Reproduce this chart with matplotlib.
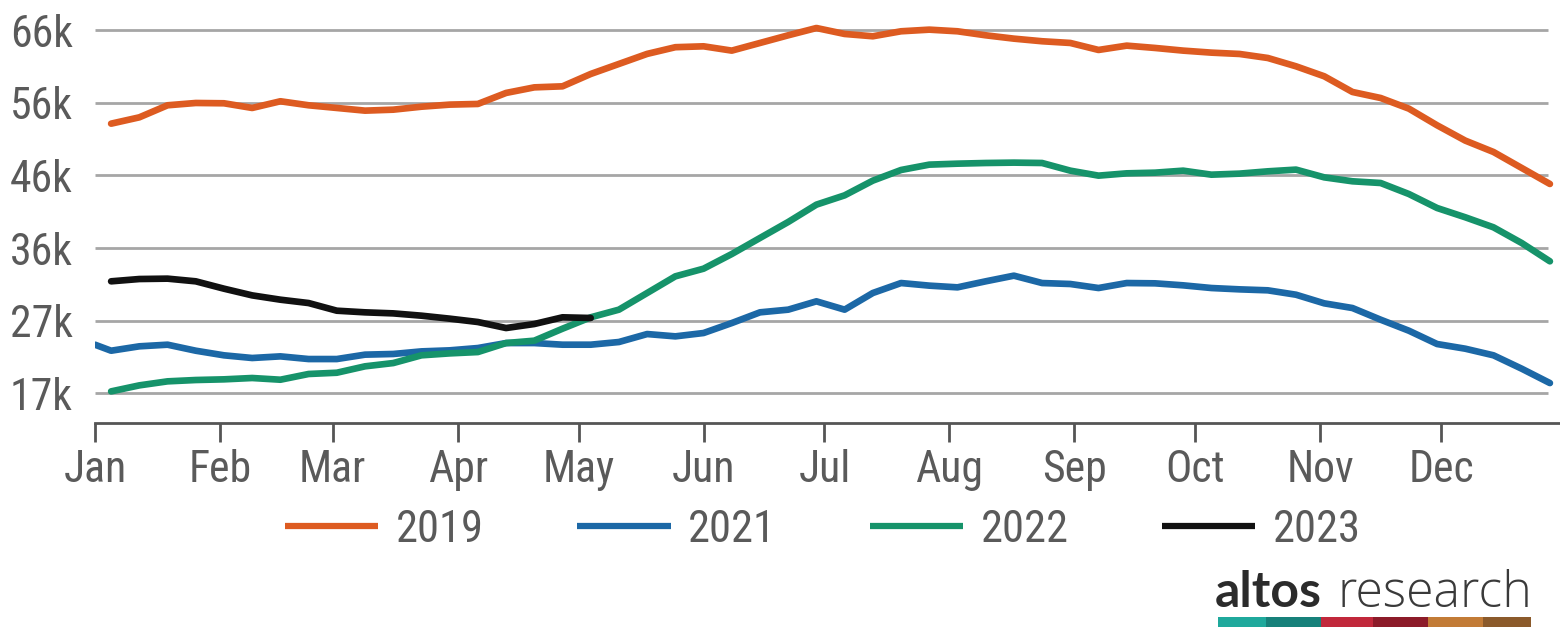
import numpy as np
import matplotlib.pyplot as plt
from matplotlib import font_manager
from matplotlib.patches import Rectangle

# pick a narrow face if one is installed
names = {f.name for f in font_manager.fontManager.ttflist}
narrow = [n for n in ['Roboto Condensed', 'Liberation Sans Narrow', 'DejaVu Sans Condensed',
                      'Open Sans Condensed', 'Noto Sans Condensed'] if n in names]
plt.rcParams['font.family'] = narrow + ['DejaVu Sans']
plt.rcParams['font.stretch'] = 'condensed'

# weekly inventory, thousands of homes (day of year for each weekly reading)
weeks = np.arange(4, 362, 7)

inv_2019 = [53.12, 53.97, 55.59, 55.90, 55.86, 55.23, 56.13, 55.59, 55.23, 54.87,
            55.00, 55.40, 55.68, 55.77, 57.25, 58.00, 58.14, 59.80, 61.15, 62.50,
            63.40, 63.52, 62.94, 63.97, 65.00, 65.98, 65.18, 64.87, 65.54, 65.76,
            65.54, 65.00, 64.55, 64.20, 63.97, 63.03, 63.61, 63.30, 62.94, 62.67,
            62.49, 61.95, 60.83, 59.49, 57.38, 56.57, 55.14, 52.90, 50.84, 49.31,
            47.16, 45.01]

inv_2021_start = 23.40  # reading on Jan 1
inv_2021 = [22.59, 23.18, 23.40, 22.59, 21.97, 21.61, 21.83, 21.47, 21.47, 22.06,
            22.15, 22.50, 22.64, 22.95, 23.62, 23.62, 23.40, 23.40, 23.76, 24.83,
            24.52, 24.97, 26.31, 27.75, 28.11, 29.23, 28.11, 30.35, 31.69, 31.34,
            31.11, 31.92, 32.68, 31.69, 31.56, 31.02, 31.69, 31.65, 31.38, 31.02,
            30.84, 30.71, 30.12, 28.96, 28.33, 26.76, 25.28, 23.49, 22.86, 21.97,
            20.17, 18.24]

inv_2022 = [17.12, 17.93, 18.47, 18.65, 18.74, 18.92, 18.69, 19.46, 19.63, 20.49,
            20.93, 21.97, 22.23, 22.41, 23.62, 23.94, 25.55, 27.08, 28.11, 30.35,
            32.59, 33.62, 35.59, 37.75, 39.90, 42.23, 43.48, 45.46, 46.89, 47.61,
            47.74, 47.83, 47.88, 47.83, 46.80, 46.13, 46.44, 46.53, 46.80, 46.26,
            46.40, 46.71, 46.94, 45.90, 45.37, 45.14, 43.66, 41.78, 40.53, 39.18,
            37.07, 34.61]

inv_2023 = [31.92, 32.23, 32.28, 31.92, 30.93, 30.03, 29.45, 29.00, 27.97, 27.75,
            27.61, 27.30, 26.90, 26.45, 25.64, 26.18, 27.08, 26.99]

month_starts = [0, 31, 59, 90, 120, 151, 181, 212, 243, 273, 304, 334]
month_names = ['Jan', 'Feb', 'Mar', 'Apr', 'May', 'Jun',
               'Jul', 'Aug', 'Sep', 'Oct', 'Nov', 'Dec']

y_ticks = [16.9, 26.65, 36.4, 46.15, 55.9, 65.65]
y_labels = ['17k', '27k', '36k', '46k', '56k', '66k']

logo_colors = ['#1fa99c', '#17817a', '#c1283b', '#8c1b29', '#c27b36', '#8b5a2b']
logo_widths = [48, 55, 52, 55, 55, 48]

c2019, c2021, c2022, c2023 = '#dd5b21', '#1c68a6', '#16936a', '#111111'
text_gray = '#5a5a5a'

fig = plt.figure(figsize=(15.6, 6.29), dpi=100)
ax = fig.add_axes([95 / 1560, 1 - 423 / 629, 1465 / 1560, 408 / 629])

ax.set_xlim(0, 363.5)
ax.set_ylim(12.87, 67.73)

# horizontal grid, stopping short of the right edge
ax.hlines(y_ticks, 0, 360.5, colors='#a6a6a6', linewidth=2, zorder=1)

lw = 4.8
style = dict(lw=lw, solid_capstyle='round', solid_joinstyle='round')
ax.plot(weeks, inv_2019, color=c2019, label='2019', zorder=3, **style)
ax.plot(np.r_[0, weeks], np.r_[inv_2021_start, inv_2021], color=c2021,
        label='2021', zorder=3, **style)
ax.plot(weeks, inv_2022, color=c2022, label='2022', zorder=3, **style)
ax.plot(weeks[:len(inv_2023)], inv_2023, color=c2023, label='2023', zorder=4,
        **style)

for side in ['top', 'right', 'left']:
    ax.spines[side].set_visible(False)
ax.spines['bottom'].set_color('#555555')
ax.spines['bottom'].set_linewidth(2)

ax.set_xticks(month_starts)
ax.set_xticklabels(month_names)
ax.tick_params(axis='x', direction='out', length=14, width=2, color='#555555',
               labelsize=31.5, labelcolor=text_gray, pad=5)
ax.set_yticks(y_ticks)
ax.set_yticklabels(y_labels)
ax.tick_params(axis='y', length=0, labelsize=31.5, labelcolor=text_gray, pad=16)

leg = ax.legend(loc='center', bbox_to_anchor=(823 / 1560, 1 - 530 / 629),
                bbox_transform=fig.transFigure, ncol=4, frameon=False,
                fontsize=32, handlelength=2.1, handletextpad=0.4,
                columnspacing=2.1, labelcolor=text_gray)
for line in leg.get_lines():
    line.set_linewidth(4.5)
    line.set_solid_capstyle('butt')

# company logo, bottom right
fig.text(1215 / 1560, 1 - 607 / 629, 'altos', family='Lato', weight='bold',
         fontsize=36, color='#2b2b2b', ha='left', va='baseline', stretch='normal')
fig.text(1532 / 1560, 1 - 607 / 629, 'research', family=['Open Sans', 'Lato'],
         weight=300, fontsize=36, color='#3a3a3a', ha='right', va='baseline',
         stretch='normal')
x0 = 1218
for col, w in zip(logo_colors, logo_widths):
    fig.patches.append(Rectangle((x0 / 1560, 1 - 627 / 629), w / 1560, 10 / 629,
                                 transform=fig.transFigure, color=col, lw=0))
    x0 += w

fig.savefig('out.png', dpi=100)
